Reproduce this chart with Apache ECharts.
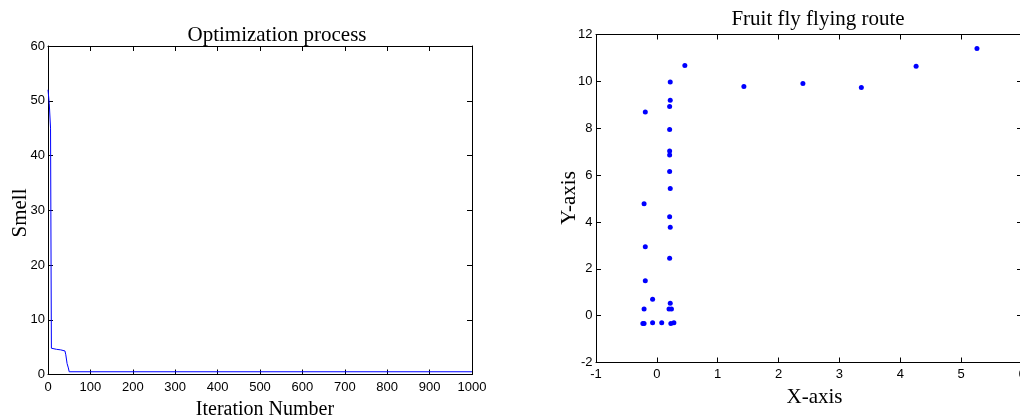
<!DOCTYPE html>
<html>
<head>
<meta charset="utf-8">
<script src="https://cdn.jsdelivr.net/npm/echarts@6/dist/echarts.min.js"></script>
<style>
html,body{margin:0;padding:0;background:#fff;}
#c{width:1020px;height:419px;}
</style>
</head>
<body>
<div id="c"></div>
<script>
// Left: optimization process (iteration vs smell)
const iterations = [0, 3, 6, 8, 20, 30, 40, 42, 45, 48, 50, 1000];
const smell      = [52, 49.5, 45, 4.8, 4.6, 4.5, 4.3, 3.6, 2.0, 1.2, 0.5, 0.5];
const leftXTicks = [0, 1000, 100];
const leftYTicks = [0, 60, 10];

// Right: fruit fly flying route
const flyX = [0.46, 0.22, 0.22, 0.21, -0.19, 0.21, 0.21, 0.21, 0.21, 0.22, -0.21, 0.21, 0.22, -0.19, 0.21, -0.19, -0.07, 0.22, -0.21, 0.20, 0.24, -0.23, -0.21, -0.07, 0.08, 0.23, 0.28, 1.43, 2.40, 3.36, 4.26, 5.26];
const flyY = [10.68, 9.97, 9.19, 8.93, 8.69, 7.94, 7.03, 6.86, 6.15, 5.43, 4.78, 4.22, 3.77, 2.94, 2.45, 1.49, 0.70, 0.53, 0.28, 0.28, 0.28, -0.34, -0.34, -0.30, -0.30, -0.34, -0.30, 9.78, 9.91, 9.74, 10.65, 11.40];
const rightXTicks = [-1, 6, 1];
const rightYTicks = [-2, 12, 2];

const titles = ['Optimization process', 'Fruit fly flying route'];
const axisNames = ['Iteration Number', 'Smell', 'X-axis', 'Y-axis'];

const chart = echarts.init(document.getElementById('c'), null, {renderer: 'canvas'});

const SANS = 'Liberation Sans, Arial, sans-serif';
const SERIF = 'Liberation Serif, Times New Roman, serif';

function axis(gridIndex, ticks, position, showLabel, margin) {
  return {
    type: 'value', gridIndex: gridIndex, position: position,
    min: ticks[0], max: ticks[1], interval: ticks[2],
    axisLine: {show: true, onZero: false, lineStyle: {color: '#000', width: 1}},
    axisTick: {show: true, inside: true, length: 5, lineStyle: {color: '#000', width: 1}},
    axisLabel: {show: showLabel, color: '#000', fontFamily: SANS, fontSize: 13, margin: margin,
                showMinLabel: true, showMaxLabel: true, formatter: v => String(v)},
    splitLine: {show: false}
  };
}

const lineData = iterations.map((v, i) => [v, smell[i]]);
const flyData = flyX.map((v, i) => [v, flyY[i]]);

function txt(s, x, y, size, rot) {
  return {type: 'text', x: x, y: y, rotation: rot || 0,
          style: {text: s, font: size + 'px ' + SERIF, fill: '#000', align: 'center', verticalAlign: 'middle'}};
}

chart.setOption({
  animation: false,
  backgroundColor: '#fff',
  grid: [
    {left: 48, top: 46, width: 424, height: 328.5, outerBoundsMode: 'none', containLabel: false},
    {left: 596, top: 34.5, width: 426, height: 328, outerBoundsMode: 'none', containLabel: false}
  ],
  xAxis: [
    axis(0, leftXTicks, 'bottom', true, 6),
    axis(0, leftXTicks, 'top', false, 6),
    axis(1, rightXTicks, 'bottom', true, 5),
    axis(1, rightXTicks, 'top', false, 5)
  ],
  yAxis: [
    axis(0, leftYTicks, 'left', true, 3),
    axis(0, leftYTicks, 'right', false, 3),
    axis(1, rightYTicks, 'left', true, 3.5),
    axis(1, rightYTicks, 'right', false, 3.5)
  ],
  series: [
    {type: 'line', xAxisIndex: 0, yAxisIndex: 0, data: lineData, showSymbol: false, symbol: 'none',
     lineStyle: {color: '#0000ff', width: 1}, itemStyle: {color: '#0000ff'}},
    {type: 'scatter', xAxisIndex: 2, yAxisIndex: 2, data: flyData, symbol: 'circle', symbolSize: 5,
     itemStyle: {color: '#0000ff', opacity: 1}}
  ],
  graphic: [
    txt(titles[0], 277, 35.5, 21),
    txt(titles[1], 818, 19.5, 21),
    txt(axisNames[0], 265, 409.6, 20),
    txt(axisNames[1], 20.5, 213, 21, Math.PI / 2),
    txt(axisNames[2], 814.5, 397, 21),
    txt(axisNames[3], 569, 198, 21, Math.PI / 2)
  ]
});
</script>
</body>
</html>
